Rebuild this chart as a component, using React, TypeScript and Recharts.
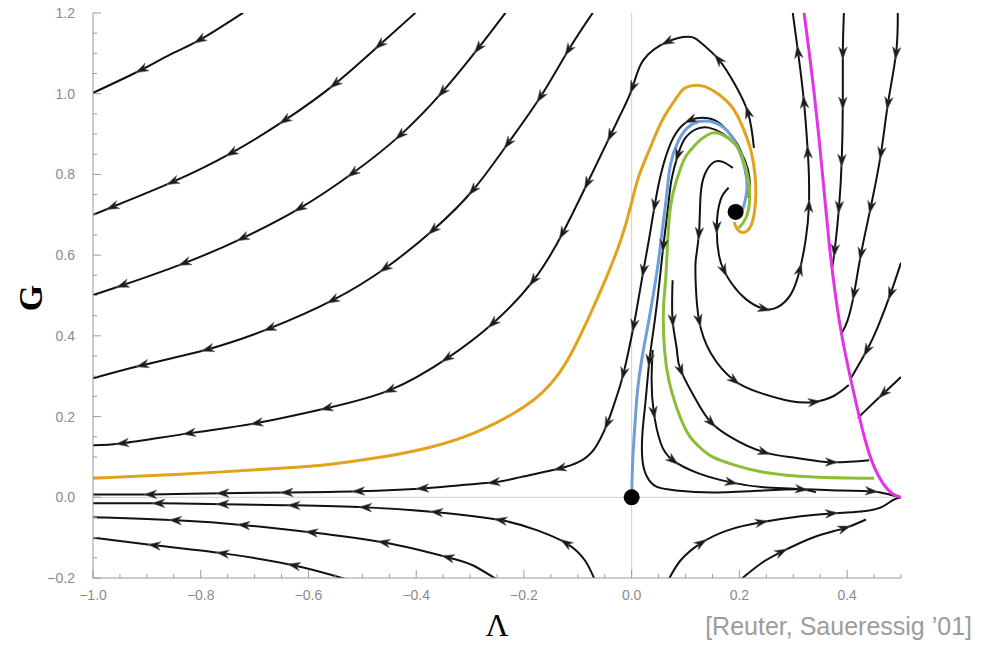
import React from "react";
import { ComposedChart, Line, XAxis, YAxis, ReferenceLine, Scatter } from "recharts";

// [Λ, G, arrow?] — points in flow direction
type Pt = [number, number, number?];

const A1: Pt[] = [[-0.721, 1.201], [-0.801, 1.134, 1], [-0.857, 1.097], [-0.909, 1.06, 1], [-1.0, 1.002]];
const A2: Pt[] = [[-0.401, 1.201], [-0.467, 1.122, 1], [-0.55, 1.025, 1], [-0.643, 0.935, 1], [-0.742, 0.854, 1], [-0.851, 0.782, 1], [-0.963, 0.72, 1], [-1.0, 0.7]];
const A3: Pt[] = [[-0.234, 1.201], [-0.284, 1.114, 1], [-0.351, 1.005, 1], [-0.429, 0.898, 1], [-0.517, 0.804, 1], [-0.615, 0.717, 1], [-0.721, 0.643, 1], [-0.829, 0.581, 1], [-0.944, 0.526, 1], [-1.0, 0.501]];
const A4: Pt[] = [[-0.072, 1.201], [-0.117, 1.109, 1], [-0.169, 0.993, 1], [-0.229, 0.878, 1], [-0.294, 0.762, 1], [-0.368, 0.663, 1], [-0.457, 0.568, 1], [-0.554, 0.489, 1], [-0.671, 0.419, 1], [-0.786, 0.367, 1], [-0.907, 0.328, 1], [-1.0, 0.295]];
const A5: Pt[] = [[0.227, 0.866], [0.216, 0.953, 1], [0.19, 1.027], [0.162, 1.084, 1], [0.128, 1.127], [0.106, 1.141], [0.067, 1.129, 1], [0.022, 1.084], [0.002, 1.017, 1], [-0.019, 0.953], [-0.039, 0.898, 1], [-0.082, 0.779, 1], [-0.128, 0.655, 1], [-0.182, 0.538, 1], [-0.257, 0.432, 1], [-0.342, 0.345, 1], [-0.448, 0.266, 1], [-0.565, 0.221, 1], [-0.695, 0.184, 1], [-0.82, 0.159, 1], [-0.944, 0.134, 1], [-1.0, 0.129]];
const B1: Pt[] = [[0.212, 0.799], [0.203, 0.856], [0.184, 0.898], [0.162, 0.928], [0.138, 0.94], [0.11, 0.935, 1], [0.087, 0.911], [0.069, 0.866], [0.054, 0.799], [0.043, 0.725, 1], [0.032, 0.638], [0.022, 0.563, 1], [0.013, 0.494], [0.004, 0.427, 1], [-0.015, 0.308, 1], [-0.03, 0.241], [-0.045, 0.184, 1], [-0.071, 0.117], [-0.099, 0.087], [-0.132, 0.072, 1], [-0.206, 0.05], [-0.255, 0.037, 1], [-0.318, 0.03], [-0.387, 0.022, 1], [-0.506, 0.015, 1], [-0.639, 0.012, 1], [-0.758, 0.01, 1], [-0.892, 0.007, 1], [-1.0, 0.007]];
const B2: Pt[] = [[0.217, 0.742], [0.219, 0.787], [0.21, 0.836], [0.193, 0.873], [0.169, 0.901], [0.143, 0.916], [0.121, 0.913], [0.1, 0.891], [0.086, 0.849, 1], [0.074, 0.787], [0.067, 0.712], [0.059, 0.625, 1], [0.052, 0.538], [0.043, 0.439], [0.033, 0.34, 1], [0.026, 0.241], [0.02, 0.159], [0.02, 0.092], [0.028, 0.052], [0.045, 0.027], [0.082, 0.017], [0.152, 0.012], [0.245, 0.017], [0.32, 0.02], [0.388, 0.017], [0.444, 0.015, 1], [0.478, 0.007], [0.5, 0.0]];
const L1: Pt[] = [[0.076, 0.538], [0.076, 0.439, 1], [0.084, 0.365], [0.091, 0.315, 1], [0.123, 0.233], [0.147, 0.186, 1], [0.184, 0.149], [0.245, 0.112, 1], [0.309, 0.097], [0.37, 0.087, 1], [0.441, 0.092]];
const L2: Pt[] = [[0.039, 0.365], [0.037, 0.29], [0.041, 0.211, 1], [0.054, 0.134], [0.076, 0.092, 1], [0.123, 0.06], [0.184, 0.037, 1], [0.245, 0.025], [0.314, 0.02, 1], [0.342, 0.012]];
const U2: Pt[] = [[0.188, 0.816], [0.169, 0.831], [0.151, 0.829], [0.136, 0.801], [0.128, 0.749], [0.125, 0.655, 1], [0.119, 0.588], [0.119, 0.526], [0.125, 0.439, 1], [0.147, 0.357], [0.19, 0.29, 1], [0.24, 0.258], [0.296, 0.238], [0.338, 0.236, 1], [0.375, 0.251], [0.403, 0.278]];
const R1: Pt[] = [[0.18, 0.767], [0.165, 0.737], [0.158, 0.67, 1], [0.162, 0.6], [0.171, 0.563, 1], [0.186, 0.529], [0.212, 0.491], [0.245, 0.467, 1], [0.271, 0.471], [0.296, 0.504], [0.312, 0.563, 1], [0.323, 0.638], [0.329, 0.72, 1], [0.329, 0.799], [0.327, 0.854, 1], [0.32, 0.978, 1], [0.309, 1.102, 1], [0.299, 1.201]];
const R2: Pt[] = [[0.394, 1.201], [0.392, 1.102, 1], [0.392, 0.978, 1], [0.39, 0.836, 1], [0.385, 0.72, 1], [0.377, 0.613, 1], [0.372, 0.568]];
const R3: Pt[] = [[0.494, 1.201], [0.491, 1.102, 1], [0.476, 0.978, 1], [0.463, 0.854, 1], [0.444, 0.72, 1], [0.426, 0.605, 1], [0.413, 0.506, 1], [0.401, 0.439], [0.39, 0.407]];
const R4: Pt[] = [[0.5, 0.298], [0.468, 0.258, 1], [0.431, 0.211], [0.42, 0.196]];
const R5: Pt[] = [[0.5, 0.581], [0.481, 0.506, 1], [0.457, 0.422], [0.437, 0.365, 1], [0.407, 0.295]];
const D1: Pt[] = [[0.069, -0.203], [0.091, -0.156], [0.128, -0.114, 1], [0.178, -0.082], [0.24, -0.062, 1], [0.314, -0.047], [0.37, -0.04, 1], [0.426, -0.035], [0.463, -0.025], [0.485, -0.007], [0.5, 0.0]];
const D2: Pt[] = [[0.203, -0.203], [0.24, -0.164], [0.277, -0.136, 1], [0.338, -0.099], [0.394, -0.077, 1], [0.435, -0.055]];
const C1: Pt[] = [[-0.069, -0.203], [-0.087, -0.156], [-0.121, -0.114, 1], [-0.175, -0.082], [-0.242, -0.057, 1], [-0.361, -0.037, 1], [-0.493, -0.025, 1], [-0.626, -0.02, 1], [-0.758, -0.017, 1], [-0.877, -0.015, 1], [-1.0, -0.015]];
const C2: Pt[] = [[-0.251, -0.203], [-0.294, -0.169], [-0.34, -0.149, 1], [-0.459, -0.112, 1], [-0.593, -0.087, 1], [-0.719, -0.069, 1], [-0.846, -0.057, 1], [-0.978, -0.05], [-1.0, -0.05]];
const C3: Pt[] = [[-0.53, -0.203], [-0.626, -0.169, 1], [-0.758, -0.139, 1], [-0.885, -0.119, 1], [-0.987, -0.102], [-1.0, -0.102]];

const ORANGE: Pt[] = [[0.19, 0.682], [0.199, 0.66], [0.214, 0.66], [0.225, 0.687], [0.23, 0.737], [0.229, 0.799], [0.221, 0.861], [0.208, 0.911], [0.19, 0.96], [0.162, 0.998], [0.128, 1.02], [0.1, 1.015], [0.086, 0.995], [0.059, 0.94], [0.035, 0.868], [0.013, 0.794], [-0.002, 0.72], [-0.02, 0.638], [-0.045, 0.551], [-0.071, 0.471], [-0.119, 0.34], [-0.182, 0.241], [-0.281, 0.166], [-0.374, 0.124], [-0.467, 0.099], [-0.559, 0.082], [-0.652, 0.072], [-0.838, 0.057], [-1.0, 0.047]];
const BLUE: Pt[] = [[0.206, 0.712], [0.214, 0.762], [0.21, 0.816], [0.199, 0.861], [0.186, 0.893], [0.169, 0.918], [0.147, 0.931], [0.125, 0.931], [0.104, 0.916], [0.086, 0.881], [0.072, 0.824], [0.065, 0.749], [0.058, 0.675], [0.05, 0.588], [0.043, 0.526], [0.032, 0.439], [0.02, 0.352], [0.011, 0.266], [0.006, 0.179], [0.002, 0.092], [0.0, 0.0]];
const GREEN: Pt[] = [[0.199, 0.667], [0.212, 0.692], [0.219, 0.737], [0.216, 0.792], [0.206, 0.841], [0.19, 0.878], [0.169, 0.898], [0.151, 0.903], [0.128, 0.886], [0.11, 0.861], [0.097, 0.836], [0.082, 0.779], [0.072, 0.72], [0.067, 0.638], [0.063, 0.538], [0.059, 0.464], [0.061, 0.365], [0.069, 0.29], [0.082, 0.228], [0.104, 0.159], [0.128, 0.122], [0.152, 0.099], [0.193, 0.079], [0.245, 0.062], [0.338, 0.05], [0.45, 0.047]];
const MAGENTA: Pt[] = [[0.32, 1.201], [0.329, 1.109], [0.338, 1.01], [0.348, 0.886], [0.357, 0.762], [0.366, 0.638], [0.377, 0.514], [0.39, 0.402], [0.405, 0.303], [0.422, 0.203], [0.442, 0.104], [0.463, 0.042], [0.483, 0.01], [0.5, 0.0]];

const FIXED_POINTS = [{ x: 0, y: 0 }, { x: 0.193, y: 0.707 }];

const BLACK_LINES = [A1, A2, A3, A4, A5, C1, C2, C3, B1, B2, L1, L2, U2, R1, R2, R3, R4, R5, D1, D2];
const COLOURED = [
  { pts: ORANGE, color: "#e3a21e" },
  { pts: BLUE, color: "#6f9fd8" },
  { pts: GREEN, color: "#8bbd36" },
  { pts: MAGENTA, color: "#e234e2" },
];

const X_TICKS = [-1, -0.95, -0.9, -0.85, -0.8, -0.75, -0.7, -0.65, -0.6, -0.55, -0.5, -0.45, -0.4, -0.35, -0.3, -0.25, -0.2, -0.15, -0.1, -0.05, 0, 0.05, 0.1, 0.15, 0.2, 0.25, 0.3, 0.35, 0.4, 0.45, 0.5];
const Y_TICKS = [-0.2, -0.15, -0.1, -0.05, 0, 0.05, 0.1, 0.15, 0.2, 0.25, 0.3, 0.35, 0.4, 0.45, 0.5, 0.55, 0.6, 0.65, 0.7, 0.75, 0.8, 0.85, 0.9, 0.95, 1, 1.05, 1.1, 1.15, 1.2];

// wrapper spans the full page height (negative margins cancel the body's 8px top/bottom)
const W = 974;
const H = 641;
const PAGE_H = 649;
const FRAME = "#9a9a9a";
const LABEL = "#8a8a8a";
const SANS = "'Liberation Sans', Arial, sans-serif";
const SERIF = "'Liberation Serif', 'Times New Roman', serif";

function toData(pts: Pt[]) {
  return pts.map(([x, y, a], i) => {
    const p = pts[Math.max(0, i - 1)];
    const n = pts[Math.min(pts.length - 1, i + 1)];
    return { x, y, a: !!a, tx: n[0] - p[0], ty: n[1] - p[1] };
  });
}

const isMajor = (v: number) => Math.abs(v * 5 - Math.round(v * 5)) < 1e-6;
const fmt = (v: number) => (v < -1e-9 ? "\u2212" : "") + Math.abs(v).toFixed(1);

function renderArrow(props: any) {
  const { cx, cy, index, payload, points } = props;
  const key = `ar-${index}`;
  if (!payload || !payload.a || cx == null || cy == null) return <g key={key} />;
  let dx = payload.tx * 538;
  let dy = -payload.ty * 403;
  if (points && points[index - 1] && points[index + 1]) {
    dx = points[index + 1].x - points[index - 1].x;
    dy = points[index + 1].y - points[index - 1].y;
  }
  const len = Math.hypot(dx, dy) || 1;
  const ux = dx / len;
  const uy = dy / len;
  const L = 7;
  const hw = 4.3;
  const tip = [cx + ux * L, cy + uy * L];
  const bx = cx - ux * L * 0.8;
  const by = cy - uy * L * 0.8;
  const left = [bx - uy * hw, by + ux * hw];
  const right = [bx + uy * hw, by - ux * hw];
  const notch = [cx - ux * L * 0.3, cy - uy * L * 0.3];
  return (
    <polygon key={key} points={`${tip} ${left} ${notch} ${right}`} fill="#1a1a1a" stroke="#666" strokeWidth={0.6} />
  );
}

const BottomTick = ({ x, y, payload }: any) => {
  const v = payload.value;
  const major = isMajor(v);
  return (
    <g>
      <line x1={x} x2={x} y1={y} y2={y - (major ? 8 : 4)} stroke={FRAME} />
      {major && (
        <text x={x} y={y + 22} textAnchor="middle" fontSize={14} fill={LABEL} fontFamily={SANS}>
          {fmt(v)}
        </text>
      )}
    </g>
  );
};

const TopTick = ({ x, y, payload }: any) => (
  <line x1={x} x2={x} y1={y} y2={y + (isMajor(payload.value) ? 8 : 4)} stroke={FRAME} />
);

const LeftTick = ({ x, y, payload }: any) => {
  const v = payload.value;
  const major = isMajor(v);
  return (
    <g>
      <line x1={x} x2={x + (major ? 8 : 4)} y1={y} y2={y} stroke={FRAME} />
      {major && (
        <text x={x - 18} y={y} dy="0.36em" textAnchor="end" fontSize={14} fill={LABEL} fontFamily={SANS}>
          {fmt(v)}
        </text>
      )}
    </g>
  );
};

const RightTick = ({ x, y, payload }: any) => (
  <line x1={x} x2={x - (isMajor(payload.value) ? 8 : 4)} y1={y} y2={y} stroke={FRAME} />
);

const FixedPoint = (props: any) => <circle cx={props.cx} cy={props.cy} r={8} fill="#000" />;

export default function App() {
  return (
    <div style={{ position: "relative", width: W, height: PAGE_H, marginTop: -8, marginBottom: -8, background: "#fff" }}>
      <ComposedChart width={W} height={H} margin={{ top: 13, right: 81, bottom: 0, left: 0 }}>
        <XAxis
          type="number"
          dataKey="x"
          domain={[-1, 0.5]}
          ticks={X_TICKS}
          interval={0}
          allowDataOverflow
          height={63}
          tickSize={0}
          tickMargin={0}
          tickLine={false}
          axisLine={{ stroke: FRAME }}
          tick={<BottomTick />}
        />
        <XAxis
          xAxisId="t"
          orientation="top"
          type="number"
          domain={[-1, 0.5]}
          ticks={X_TICKS}
          interval={0}
          allowDataOverflow
          height={0}
          tickSize={0}
          tickMargin={0}
          tickLine={false}
          axisLine={{ stroke: FRAME }}
          tick={<TopTick />}
        />
        <YAxis
          type="number"
          dataKey="y"
          domain={[-0.2, 1.2]}
          ticks={Y_TICKS}
          interval={0}
          allowDataOverflow
          width={85}
          tickSize={0}
          tickMargin={0}
          tickLine={false}
          axisLine={{ stroke: FRAME }}
          tick={<LeftTick />}
        />
        <YAxis
          yAxisId="r"
          orientation="right"
          type="number"
          domain={[-0.2, 1.2]}
          ticks={Y_TICKS}
          interval={0}
          allowDataOverflow
          width={0}
          tickSize={0}
          tickMargin={0}
          tickLine={false}
          axisLine={{ stroke: FRAME }}
          tick={<RightTick />}
        />
        <ReferenceLine x={0} stroke="#cfcfcf" strokeWidth={1} />
        <ReferenceLine y={0} stroke="#cfcfcf" strokeWidth={1} />
        {BLACK_LINES.map((pts, i) => (
          <Line
            key={`b${i}`}
            data={toData(pts)}
            dataKey="y"
            type="natural"
            stroke="#111"
            strokeWidth={2}
            dot={renderArrow}
            activeDot={false}
            isAnimationActive={false}
            legendType="none"
          />
        ))}
        {COLOURED.map((c, i) => (
          <Line
            key={`c${i}`}
            data={toData(c.pts)}
            dataKey="y"
            type="natural"
            stroke={c.color}
            strokeWidth={3}
            dot={false}
            activeDot={false}
            isAnimationActive={false}
            legendType="none"
          />
        ))}
        <Scatter data={FIXED_POINTS} dataKey="y" shape={<FixedPoint />} isAnimationActive={false} legendType="none" />
      </ComposedChart>
      <svg width={W} height={PAGE_H} style={{ position: "absolute", left: 0, top: 0, pointerEvents: "none" }}>
        <text
          x={22}
          y={298}
          transform="rotate(-90 22 298)"
          textAnchor="middle"
          dominantBaseline="central"
          fontSize={34}
          fontWeight="bold"
          fontFamily={SERIF}
          fill="#000"
        >
          G
        </text>
        <text x={489} y={636} textAnchor="middle" fontSize={32} fontFamily={SERIF} fill="#000">
          Λ
        </text>
        <text x={964} y={635} textAnchor="end" fontSize={25} fontFamily={SANS} fill="#9c9c9c">
          [Reuter, Saueressig ’01]
        </text>
      </svg>
    </div>
  );
}
